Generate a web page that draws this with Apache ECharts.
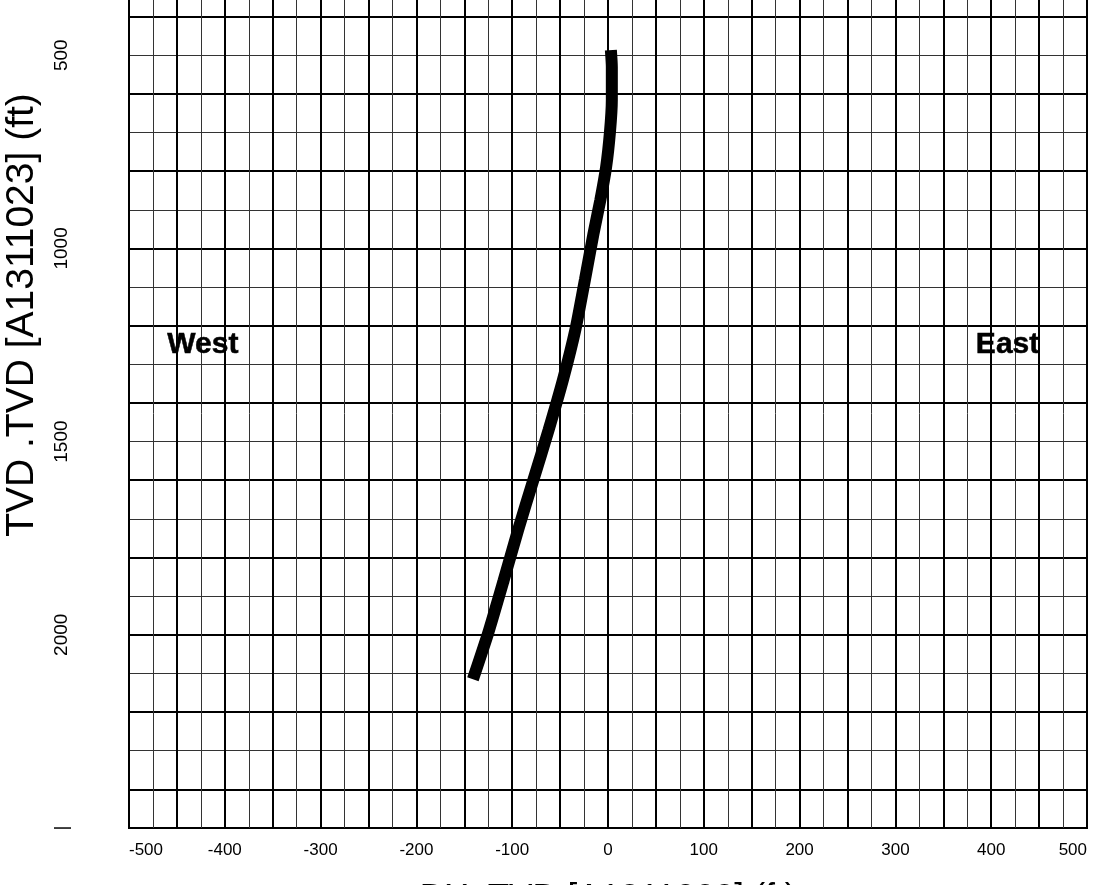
<!DOCTYPE html>
<html>
<head>
<meta charset="utf-8">
<script src="https://cdn.jsdelivr.net/npm/echarts@6/dist/echarts.min.js"></script>
<style>
  html, body { margin: 0; padding: 0; background: #fff; }
  #chart { width: 1098px; height: 885px; }
</style>
</head>
<body>
<div id="chart"></div>
<script>
// Trayectoria del pozo
const dxValues  = [3, 4, 4, 2, -2, -8, -15, -24, -34, -47, -62, -78, -94, -109, -125, -141];
const tvdValues = [487, 530, 615, 700, 790, 875, 960, 1080, 1210, 1340, 1470, 1600, 1730, 1860, 1995, 2115];

// Rotulos de orientacion
const compassNames = ['West', 'East'];
const compassDx = [-460, 384];
const compassTvd = [1250, 1250];

const xTitle = 'DX .TVD [A1311023] (ft)';
const yTitle = 'TVD .TVD [A1311023] (ft)';

const fuente = "'Liberation Sans', Arial, sans-serif";

const trayectoria = dxValues.map((v, i) => [v, tvdValues[i]]);
const rotulos = compassNames.map((n, i) => ({ name: n, value: [compassDx[i], compassTvd[i]] }));

const myChart = echarts.init(document.getElementById('chart'));

const option = {
    backgroundColor: '#fff',
    animation: false,
    grid: {
        left: 129, right: 11, top: -138, bottom: 57,
        show: true, borderColor: '#000', borderWidth: 2,
        outerBoundsMode: 'none'
    },
    xAxis: [
        {
            // eje con los rotulos
            type: 'value', min: -500, max: 500, interval: 100,
            position: 'bottom',
            axisLine: { show: true, lineStyle: { color: '#000', width: 2 } },
            axisTick: { show: false },
            splitLine: { show: false },
            axisLabel: {
                color: '#000', fontSize: 17, fontFamily: fuente, margin: 14,
                alignMinLabel: 'left', alignMaxLabel: 'right'
            },
            name: xTitle, nameLocation: 'middle', nameGap: 53,
            nameTextStyle: { color: '#000', fontSize: 35, fontFamily: fuente }
        },
        {
            // lineas finas cada 25
            type: 'value', min: -500, max: 500, interval: 25,
            axisLine: { show: false }, axisTick: { show: false }, axisLabel: { show: false },
            splitLine: { show: true, lineStyle: { color: '#333', width: 1 } }
        },
        {
            // lineas gruesas cada 50
            type: 'value', min: -500, max: 500, interval: 50,
            axisLine: { show: false }, axisTick: { show: false }, axisLabel: { show: false },
            splitLine: { show: true, lineStyle: { color: '#000', width: 2 } }
        }
    ],
    yAxis: [
        {
            type: 'value', min: 0, max: 2500, interval: 500, inverse: true,
            axisLine: { show: true, lineStyle: { color: '#000', width: 2 } },
            axisTick: { show: false },
            splitLine: { show: false },
            axisLabel: {
                color: '#000', fontSize: 19, fontFamily: fuente, rotate: 90, margin: 58,
                formatter: v => (v === 2500 ? '|' : String(v))
            }
        },
        {
            type: 'value', min: 0, max: 2500, interval: 100, inverse: true,
            axisLine: { show: false }, axisTick: { show: false }, axisLabel: { show: false },
            splitLine: { show: true, lineStyle: { color: '#333', width: 1 } }
        },
        {
            type: 'value', min: 0, max: 2500, interval: 200, inverse: true,
            axisLine: { show: false }, axisTick: { show: false }, axisLabel: { show: false },
            splitLine: { show: true, lineStyle: { color: '#000', width: 2 } }
        }
    ],
    graphic: [{
        type: 'text',
        x: 22, y: 315,
        rotation: Math.PI / 2,
        style: {
            text: yTitle, fill: '#000', fontSize: 39, fontFamily: fuente,
            align: 'center', verticalAlign: 'middle'
        }
    }],
    series: [
        {
            type: 'line',
            data: trayectoria,
            showSymbol: false,
            smooth: 0.2,
            lineStyle: { color: '#000', width: 12, cap: 'butt' },
            z: 5
        },
        {
            type: 'scatter',
            data: rotulos,
            symbolSize: 0,
            itemStyle: { opacity: 1 },
            label: {
                show: true, position: 'right', distance: 0,
                formatter: '{b}', color: '#000',
                fontSize: 30, fontWeight: 'bold', fontFamily: fuente,
                textBorderColor: '#000', textBorderWidth: 0.5
            },
            z: 6
        }
    ]
};

myChart.setOption(option);
</script>
</body>
</html>
